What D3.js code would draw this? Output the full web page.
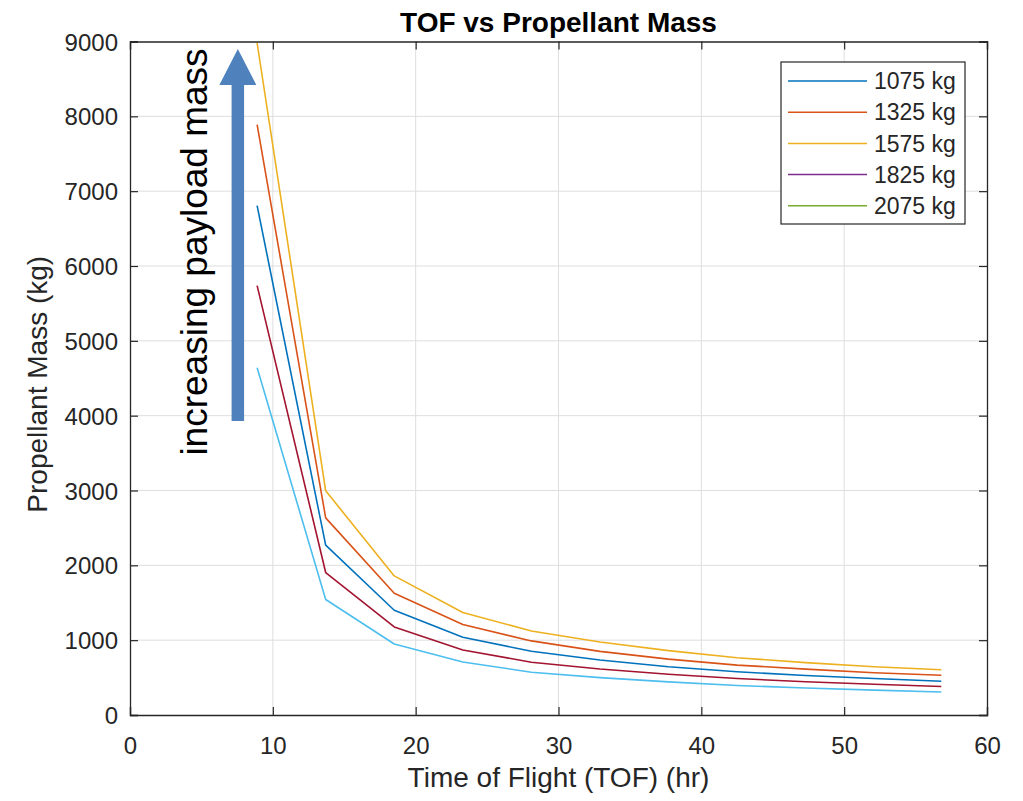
<!DOCTYPE html>
<html>
<head>
<meta charset="utf-8">
<script src="https://cdn.jsdelivr.net/npm/d3@7"></script>
<style>
  html, body { margin: 0; padding: 0; background: #fff; }
  svg { display: block; font-family: "Liberation Sans", Arial, Helvetica, sans-serif; }
</style>
</head>
<body>
<svg id="chart" width="1023" height="801"></svg>
<script>
// ---- data ----
const tof = [8.9, 13.7, 18.5, 23.3, 28.1, 32.9, 37.7, 42.5, 47.3, 52.1, 56.8];
const seriesTop    = [8980, 2996, 1859, 1369, 1123, 975, 860, 765, 700, 645, 604];
const seriesSecond = [7890, 2634, 1627, 1209, 990, 850, 747, 667, 613, 565, 531];
const seriesThird  = [6807, 2269, 1400, 1039, 852, 735, 645, 578, 527, 487, 452];
const seriesFourth = [5737, 1904, 1177, 869, 705, 614, 545, 487, 444, 410, 380];
const seriesFifth  = [4640, 1543, 949, 709, 571, 500, 443, 395, 361, 333, 308];
const lineSeries = [seriesFifth, seriesFourth, seriesThird, seriesSecond, seriesTop];
const lineColors = ["#4DBEEE", "#A2142F", "#0072BD", "#D95319", "#EDB120"];

const legendLabels = ["1075 kg", "1325 kg", "1575 kg", "1825 kg", "2075 kg"];
const legendColors = ["#0072BD", "#D95319", "#EDB120", "#7E2F8E", "#77AC30"];

const xTicks = [0, 10, 20, 30, 40, 50, 60];
const yTicks = [0, 1000, 2000, 3000, 4000, 5000, 6000, 7000, 8000, 9000];

const titleText = "TOF vs Propellant Mass";
const xLabel = "Time of Flight (TOF) (hr)";
const yLabel = "Propellant Mass (kg)";
const annotText = "increasing payload mass";
const arrowX = 7.55, arrowFrom = 3930, arrowTo = 8900;

// ---- layout ----
const svg = d3.select("#chart");
const L = 130, T = 41.5, R = 987, B = 715;
const x = d3.scaleLinear().domain([0, 60]).range([L, R]);
const y = d3.scaleLinear().domain([0, 9000]).range([B, T]);
const axisColor = "#262626";

// grid
const grid = svg.append("g");
grid.selectAll("line.gx").data(xTicks.slice(1, -1)).join("line")
  .attr("x1", d => x(d)).attr("x2", d => x(d)).attr("y1", T).attr("y2", B)
  .attr("stroke", "#dedede").attr("stroke-width", 1);
grid.selectAll("line.gy").data(yTicks.slice(1, -1)).join("line")
  .attr("x1", L).attr("x2", R).attr("y1", d => y(d)).attr("y2", d => y(d))
  .attr("stroke", "#dedede").attr("stroke-width", 1);

// clip
svg.append("clipPath").attr("id", "clip").append("rect")
  .attr("x", L).attr("y", T).attr("width", R - L).attr("height", B - T);

// lines
const lineGen = d3.line().x((d, i) => x(tof[i])).y(d => y(d));
svg.append("g").attr("clip-path", "url(#clip)")
  .selectAll("path").data(lineSeries).join("path")
  .attr("d", d => lineGen(d))
  .attr("fill", "none")
  .attr("stroke", (d, i) => lineColors[i])
  .attr("stroke-width", 1.6)
  .attr("stroke-linejoin", "round");

// axes (MATLAB style: ticks inside, box)
const tickLen = 8;
const axB = svg.append("g").attr("transform", `translate(0,${B})`)
  .call(d3.axisBottom(x).tickValues(xTicks).tickSize(-tickLen).tickPadding(22).tickFormat(d3.format("d")));
const axT = svg.append("g").attr("transform", `translate(0,${T})`)
  .call(d3.axisTop(x).tickValues(xTicks).tickSize(-tickLen).tickFormat(""));
const axL = svg.append("g").attr("transform", `translate(${L},0)`)
  .call(d3.axisLeft(y).tickValues(yTicks).tickSize(-tickLen).tickPadding(12).tickFormat(d3.format("d")));
const axR = svg.append("g").attr("transform", `translate(${R},0)`)
  .call(d3.axisRight(y).tickValues(yTicks).tickSize(-tickLen).tickFormat(""));
[axB, axT, axL, axR].forEach(g => {
  g.select(".domain").attr("stroke", axisColor).attr("stroke-width", 1.3);
  g.selectAll(".tick line").attr("stroke", axisColor).attr("stroke-width", 1.2);
  g.selectAll(".tick text").attr("fill", axisColor)
    .style("font-size", "24px").style("font-family", "'Liberation Sans', Arial, sans-serif");
});
axB.selectAll(".tick text").attr("dy", "0.71em").attr("y", 22);
axL.selectAll(".tick text").attr("dy", "0.36em");

// title
svg.append("text").attr("x", (L + R) / 2).attr("y", 31.5)
  .attr("text-anchor", "middle").attr("font-weight", "bold")
  .attr("font-size", 28).attr("fill", "#000").text(titleText);

// axis labels
svg.append("text").attr("x", (L + R) / 2).attr("y", 787)
  .attr("text-anchor", "middle").attr("font-size", 28).attr("fill", axisColor).text(xLabel);
svg.append("text").attr("transform", `translate(47,${(T + B) / 2 + 6}) rotate(-90)`)
  .attr("text-anchor", "middle").attr("font-size", 28).attr("fill", axisColor).text(yLabel);

// legend
const lg = svg.append("g");
lg.append("rect").attr("x", 781).attr("y", 62).attr("width", 184).attr("height", 162)
  .attr("fill", "#fff").attr("stroke", axisColor).attr("stroke-width", 1.2);
const rowY = i => 81 + i * 31.2;
lg.selectAll("line").data(legendLabels).join("line")
  .attr("x1", 788).attr("x2", 867).attr("y1", (d, i) => rowY(i)).attr("y2", (d, i) => rowY(i))
  .attr("stroke", (d, i) => legendColors[i]).attr("stroke-width", 1.5);
lg.selectAll("text").data(legendLabels).join("text")
  .attr("x", 874).attr("y", (d, i) => rowY(i)).attr("dy", "0.36em")
  .attr("font-size", 23).attr("fill", axisColor).text(d => d);

// annotation arrow
const ax = x(arrowX), yTip = y(arrowTo), yBase = y(arrowFrom);
const shaftW = 12.5, headW = 37, headL = 36;
svg.append("path")
  .attr("d", `M${ax - shaftW / 2},${yBase} L${ax - shaftW / 2},${yTip + headL} L${ax - headW / 2},${yTip + headL} L${ax},${yTip} L${ax + headW / 2},${yTip + headL} L${ax + shaftW / 2},${yTip + headL} L${ax + shaftW / 2},${yBase} Z`)
  .attr("fill", "#4F81BD");
svg.append("text").attr("transform", `translate(207,252) rotate(-90)`)
  .attr("text-anchor", "middle").attr("font-size", 37).attr("fill", "#000").text(annotText);
</script>
</body>
</html>
